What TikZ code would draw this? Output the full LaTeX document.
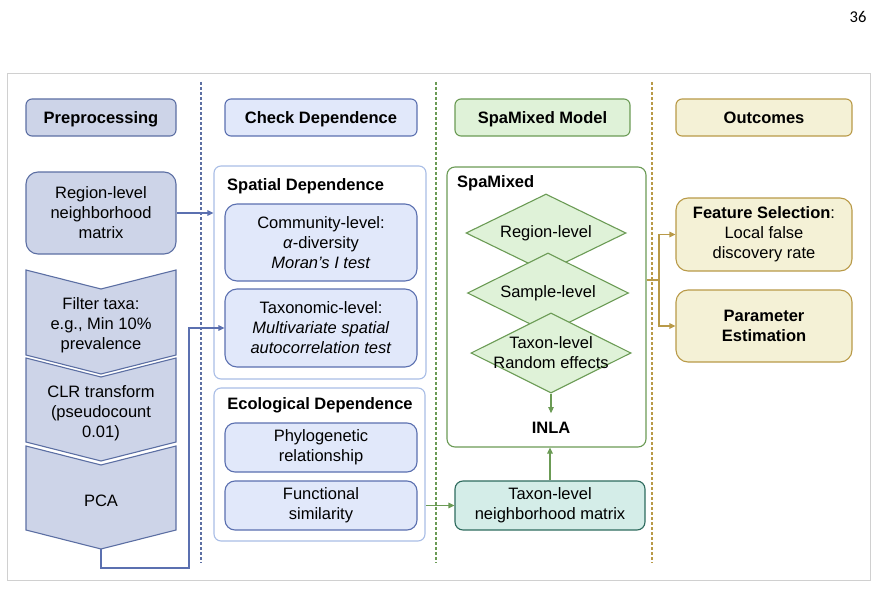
\documentclass[tikz,border=0pt]{standalone}
\usepackage{fontspec}
\setmainfont{Liberation Sans}
\newfontfamily\pagefont{Carlito}
\usetikzlibrary{arrows.meta,shapes.geometric}
\definecolor{pref}{HTML}{CDD4E8}
\definecolor{preb}{HTML}{5C6FA3}
\definecolor{chkf}{HTML}{E1E8FA}
\definecolor{chkb}{HTML}{5B70B0}
\definecolor{contb}{HTML}{A9BDE6}
\definecolor{grf}{HTML}{DFF2D8}
\definecolor{grb}{HTML}{6B9B55}
\definecolor{gof}{HTML}{F4F1D6}
\definecolor{gob}{HTML}{B99A48}
\definecolor{tef}{HTML}{D4EDE8}
\definecolor{teb}{HTML}{2E6B5E}
\definecolor{framec}{HTML}{D0D0D0}
\begin{document}
\begin{tikzpicture}[x=1pt,y=-1pt,
  base/.style={font=\fontsize{16.5pt}{20pt}\selectfont, align=center, inner sep=0pt, line width=1.1pt},
  bold/.style={font=\fontsize{16.5pt}{20pt}\selectfont\bfseries},
  prebox/.style={base, draw=preb, fill=pref},
  chkbox/.style={base, draw=chkb, fill=chkf},
  grbox/.style={base, draw=grb, fill=grf},
  gobox/.style={base, draw=gob, fill=gof},
  tebox/.style={base, draw=teb, fill=tef, rounded corners=8pt},
  contbox/.style={base, draw=contb, fill=white, rounded corners=7pt},
  hdr/.style={minimum height=37pt, rounded corners=6pt, bold, text height=11.9pt, text depth=0pt},
  dia/.style={diamond, draw=grb, fill=grf, line width=1.1pt, inner sep=0pt},
  divider/.style={line width=1.1pt, dash pattern=on 3pt off 2pt},
  conn/.style={line width=1.1pt, -{Triangle[length=6pt,width=5.5pt]}},
]
\useasboundingbox (0,0) rectangle (876,610);
\node[font=\pagefont\fontsize{16.5pt}{18pt}\selectfont] (pagenum) at (858,17) {36};
\draw[framec, line width=0.9pt] (7,73) rectangle (870,580);

% dividers
\draw[divider, preb] (201,82) -- (201,563);
\draw[divider, grb] (436,82) -- (436,563);
\draw[divider, gob] (652,82) -- (652,563);

% headers
\node[prebox, hdr, minimum width=150pt] (hpre) at (101,117.5) {Preprocessing};
\node[chkbox, hdr, minimum width=192pt] (hchk) at (321,117.5) {Check Dependence};
\node[grbox, hdr, minimum width=175pt] (hspa) at (542.5,117.5) {SpaMixed Model};
\node[gobox, hdr, minimum width=176pt] (hout) at (764,117.5) {Outcomes};

% preprocessing column
\node[prebox, rounded corners=12pt, minimum width=150pt, minimum height=82pt] (region) at (101,213) {Region-level\\neighborhood\\matrix};
\draw[preb, fill=pref, line width=1.1pt] (26,270) -- (101,289) -- (176,270) -- (176,355) -- (101,374) -- (26,355) -- cycle;
\draw[preb, fill=pref, line width=1.1pt] (26,358) -- (101,377) -- (176,358) -- (176,442) -- (101,461) -- (26,442) -- cycle;
\draw[preb, fill=pref, line width=1.1pt] (26,446) -- (101,465) -- (176,446) -- (176,530) -- (101,549) -- (26,530) -- cycle;
\node[base] (filt) at (101,325) {Filter taxa:\\e.g., Min 10\%\\prevalence};
\node[base] (clr) at (101,413) {CLR transform\\(pseudocount\\0.01)};
\node[base] (pca) at (101,501) {PCA};
\coordinate (pcatip) at (101,549);
\coordinate (pcadown) at (101,568);
\coordinate (pcaright) at (189,568);

% check dependence column
\node[contbox, minimum width=212pt, minimum height=213pt] (spatial) at (320,272.5) {};
\node[bold, anchor=west, inner sep=0pt] (spatialt) at (227,186) {Spatial Dependence};
\node[chkbox, rounded corners=12pt, minimum width=192pt, minimum height=77pt] (comm) at (321,242.5) {Community-level:\\\textit{α}-diversity\\\textit{Moran’s I test}};
\node[chkbox, rounded corners=12pt, minimum width=192pt, minimum height=78pt] (taxo) at (321,328) {Taxonomic-level:\\\textit{Multivariate spatial}\\\textit{autocorrelation test}};

\node[contbox, minimum width=211pt, minimum height=153pt] (eco) at (319.5,464.5) {};
\node[bold, inner sep=0pt] (ecot) at (320,405) {Ecological Dependence};
\node[chkbox, rounded corners=10pt, minimum width=192pt, minimum height=49pt] (phylo) at (321,447.5) {Phylogenetic\\relationship};
\node[chkbox, rounded corners=10pt, minimum width=192pt, minimum height=49pt] (func) at (321,505.5) {Functional\\similarity};

% SpaMixed column
\node[base, draw=grb, fill=white, rounded corners=8pt, minimum width=199pt, minimum height=280pt] (spamix) at (546.5,307) {};
\node[bold, anchor=west, inner sep=0pt] (spamixt) at (457,183) {SpaMixed};
\node[dia, minimum width=160pt, minimum height=78pt] (d1) at (546,233) {};
\node[base] (d1t) at (546,233) {Region-level};
\node[dia, minimum width=161pt, minimum height=80pt] (d2) at (548,293) {};
\node[base] (d2t) at (548,293) {Sample-level};
\node[dia, minimum width=160pt, minimum height=80pt] (d3) at (551,353) {};
\node[base] (d3t) at (551,353) {Taxon-level\\Random effects};
\node[bold, inner sep=8.5pt] (inla) at (551,427.5) {INLA};
\node[tebox, minimum width=190pt, minimum height=49pt] (tmat) at (550,505.5) {Taxon-level\\neighborhood matrix};

% Outcomes column
\node[gobox, rounded corners=12pt, minimum width=176pt, minimum height=73pt] (feat) at (764,234.5) {\textbf{Feature Selection}:\\Local false\\discovery rate};
\node[gobox, rounded corners=12pt, minimum width=176pt, minimum height=72pt] (param) at (764,326) {\textbf{Parameter}\\\textbf{Estimation}};
\coordinate (split) at (659,280);

% connectors
\draw[conn, chkb] (region.east) -- (region.east -| spatial.west);
\draw[conn, chkb] (pcatip) -- (pcadown) -- (pcaright) |- (taxo.west);
\draw[conn, grb] (tmat.west -| eco.east) -- (tmat.west);
\draw[conn, grb] (tmat.north) -- (tmat.north |- spamix.south);
\draw[conn, grb] (d3.south) -- (d3.south |- inla.north);
\draw[line width=1.1pt, gob] (spamix.east |- split) -- (split);
\draw[conn, gob] (split) |- (feat.west);
\draw[conn, gob] (split) |- (param.west);
\end{tikzpicture}
\end{document}
